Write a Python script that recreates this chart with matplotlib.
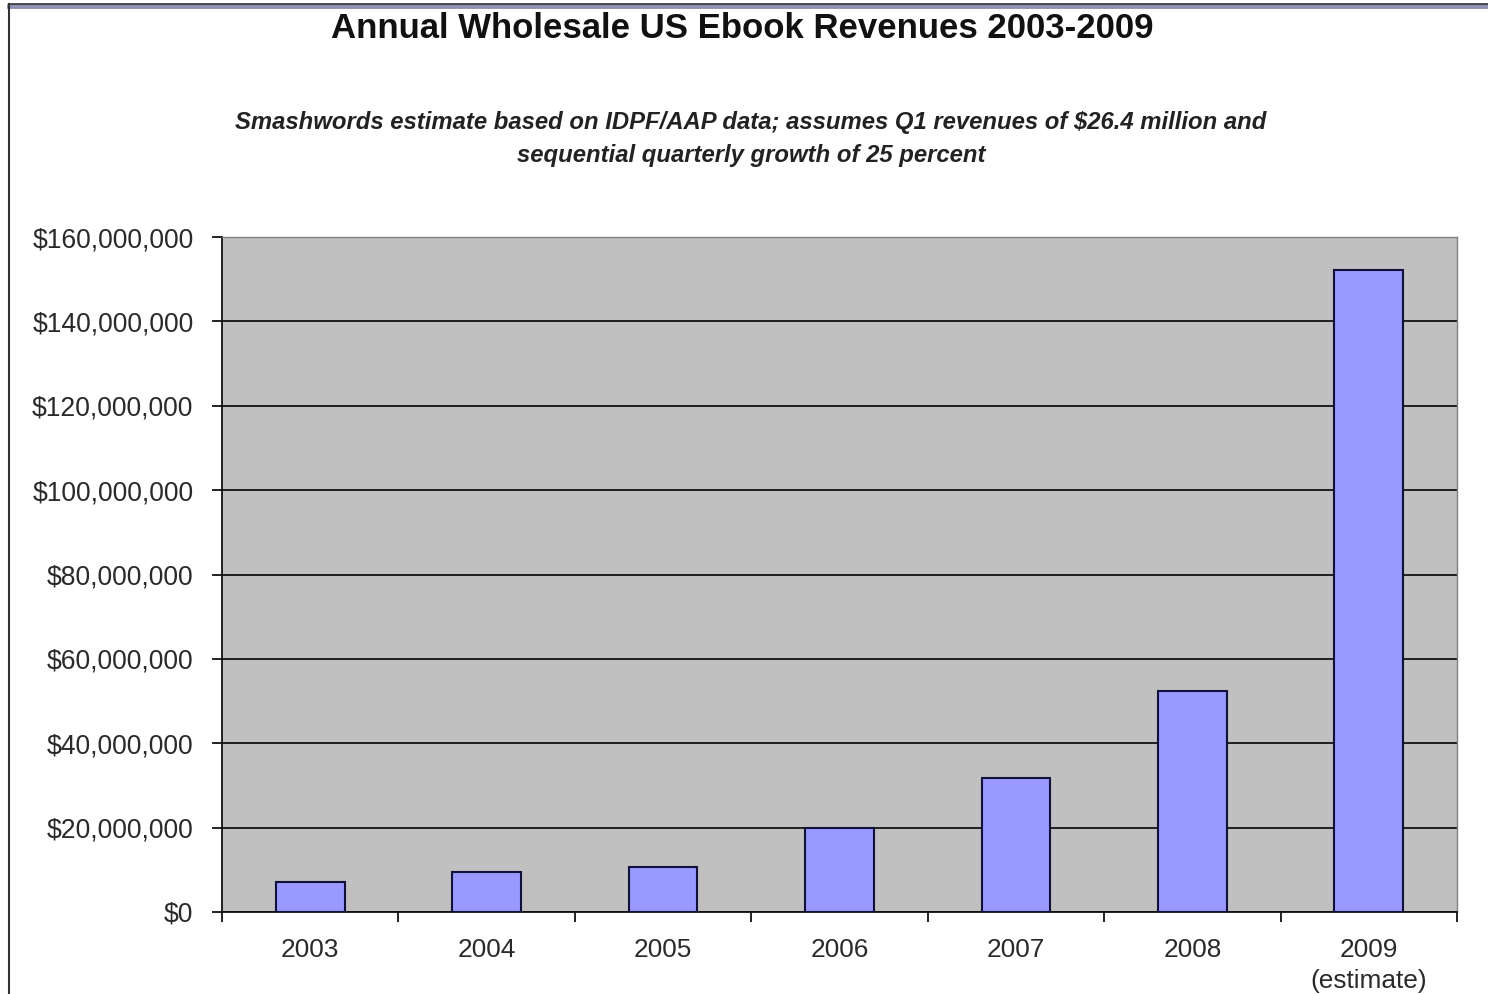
import matplotlib
matplotlib.use("Agg")
import matplotlib.pyplot as plt
from matplotlib.ticker import FuncFormatter, MultipleLocator
from matplotlib.lines import Line2D

years = ["2003", "2004", "2005", "2006", "2007", "2008", "2009\n(estimate)"]
revenues = [7.2e6, 9.5e6, 10.7e6, 19.9e6, 31.8e6, 52.4e6, 152.2e6]

title = "Annual Wholesale US Ebook Revenues 2003-2009"
subtitle = ("Smashwords estimate based on IDPF/AAP data; assumes Q1 revenues of $26.4 million and\n"
            "sequential quarterly growth of 25 percent")

plt.rcParams['font.family'] = ['Liberation Sans', 'DejaVu Sans']

fig = plt.figure(figsize=(14.88, 9.94), dpi=100)
fig.patch.set_facecolor('white')

# figure frame
fig.add_artist(Line2D([9/1488, 1.0], [1-6/994, 1-6/994], transform=fig.transFigure,
                      color='#8c93b0', lw=3.5))
fig.add_artist(Line2D([9/1488, 1.0], [1-4/994, 1-4/994], transform=fig.transFigure,
                      color='#333333', lw=1.2))
fig.add_artist(Line2D([9/1488, 9/1488], [0, 1-4/994], transform=fig.transFigure,
                      color='#333333', lw=1.5))

ax = fig.add_axes([222/1488, 1-912/994, (1457-222)/1488, (912-237)/994])
ax.set_facecolor('#C0C0C0')

x = list(range(len(years)))
ax.bar(x, revenues, width=0.39, color='#9999FF', edgecolor='#10103a', linewidth=1.5, zorder=3)

ax.set_xlim(-0.5, len(years) - 0.5)
ax.set_ylim(0, 160e6)
ax.yaxis.set_major_locator(MultipleLocator(20e6))
ax.yaxis.set_major_formatter(FuncFormatter(lambda v, p: "${:,.0f}".format(v)))
ax.grid(axis='y', color='#111111', linewidth=1.3, zorder=1)
ax.set_axisbelow(True)

ax.set_xticks(x)
ax.set_xticklabels(years, fontsize=18.9, color='#2a2a2a', linespacing=1.35)
ax.set_xticks([i - 0.5 for i in range(len(years) + 1)], minor=True)
ax.tick_params(axis='x', which='major', length=0, pad=19)
ax.tick_params(axis='x', which='minor', length=7, width=1.3, color='#111111', direction='out')
ax.tick_params(axis='y', length=7, width=1.3, color='#111111', direction='out',
               labelsize=19.1, labelcolor='#2a2a2a', pad=13.5)

for s in ['left', 'bottom']:
    ax.spines[s].set_color('#111111')
    ax.spines[s].set_linewidth(1.3)
for s in ['top', 'right']:
    ax.spines[s].set_color('#808080')
    ax.spines[s].set_linewidth(1.0)

fig.text(742/1488, 1-29/994, title, ha='center', va='center', fontsize=25,
         fontweight='bold', color='#111111')
fig.text(751/1488, 1-139/994, subtitle, ha='center', va='center', fontsize=17.2,
         fontweight='bold', fontstyle='italic', color='#222222', linespacing=1.6)

fig.savefig("out.png", dpi=100, facecolor='white')
